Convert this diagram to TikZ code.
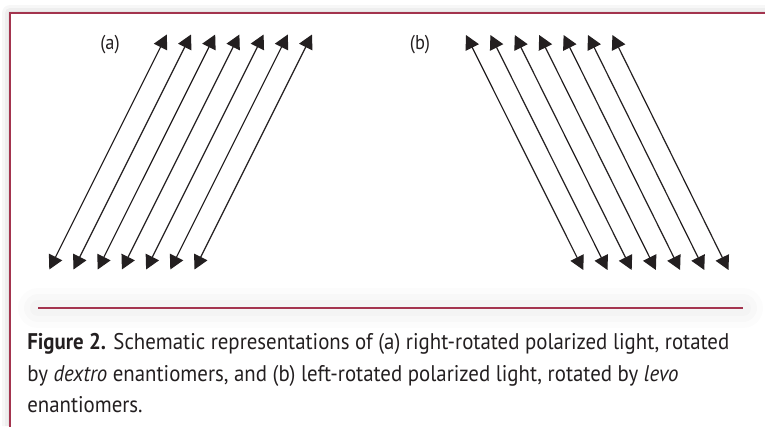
\documentclass[tikz,border=0pt]{standalone}
\usepackage{fontspec}
\setmainfont{PT Sans}[FakeStretch=0.92]
\usetikzlibrary{arrows.meta}
\definecolor{framered}{RGB}{163,52,78}
\definecolor{inkblack}{RGB}{35,31,32}

\begin{document}
\begin{tikzpicture}[
        x=0.75pt, y=-0.75pt,
        ray/.style={{Triangle[length=10.5pt,width=11pt]}-{Triangle[length=10.5pt,width=11pt]}, line width=0.9pt, draw=inkblack},
        panel/.style={font=\fontsize{15pt}{17pt}\selectfont, text=inkblack},
        caption/.style={font=\fontsize{17pt}{20pt}\selectfont, text=inkblack, anchor=base west, inner sep=0pt},
        frame/.style={draw=framered, line width=2pt},
        glow/.style={draw=black, line cap=round, line join=round}
    ]

        \useasboundingbox (0,0) rectangle (765,426);

        % Shadow outside the frame
        \begin{scope}
            \clip (0,0) rectangle (765,13) (0,0) rectangle (10,426);
            \foreach \w/\o in {16/0.03, 10/0.035, 5/0.04}
                \draw[glow, line width=\w*0.75pt, opacity=\o] (10,440) -- (10,13) -- (780,13);
        \end{scope}

        % Frame
        \draw[frame] (10,427) -- (10,13) -- (766,13);

        % Panel labels
        \node[panel] (labA) at (110,45) {(a)};
        \node[panel] (labB) at (420,45) {(b)};

        % (a) right-rotated
        \foreach \i in {0,...,6} {
            \coordinate (aTop\i) at (166.8+24.2*\i, 34.5);
            \coordinate (aBot\i) at (49.3+24.2*\i, 269.5);
            \draw[ray] (aBot\i) -- (aTop\i);
        }

        % (b) left-rotated
        \foreach \i in {0,...,6} {
            \coordinate (bTop\i) at (466+24.4*\i, 35);
            \coordinate (bBot\i) at (583.3+24.2*\i, 270);
            \draw[ray] (bTop\i) -- (bBot\i);
        }

        % Rule above the caption
        \coordinate (ruleL) at (38,308.3);
        \coordinate (ruleR) at (743,308.3);
        \foreach \w/\o in {40/0.012, 28/0.014, 16/0.016}
            \draw[glow, line width=\w*0.75pt, opacity=\o] (ruleL) -- (ruleR);
        \draw[draw=framered, line width=1.6pt] (ruleL) -- (ruleR);

        % Caption
        \node[caption] (cap1) at (27,349.5) {\textbf{Figure 2.} Schematic representations of (a) right-rotated polarized light, rotated};
        \node[caption] (cap2) at (27,381) {by \textit{dextro} enantiomers, and (b) left-rotated polarized light, rotated by \textit{levo}};
        \node[caption] (cap3) at (27,412.5) {enantiomers.};

    \end{tikzpicture}
\end{document}
